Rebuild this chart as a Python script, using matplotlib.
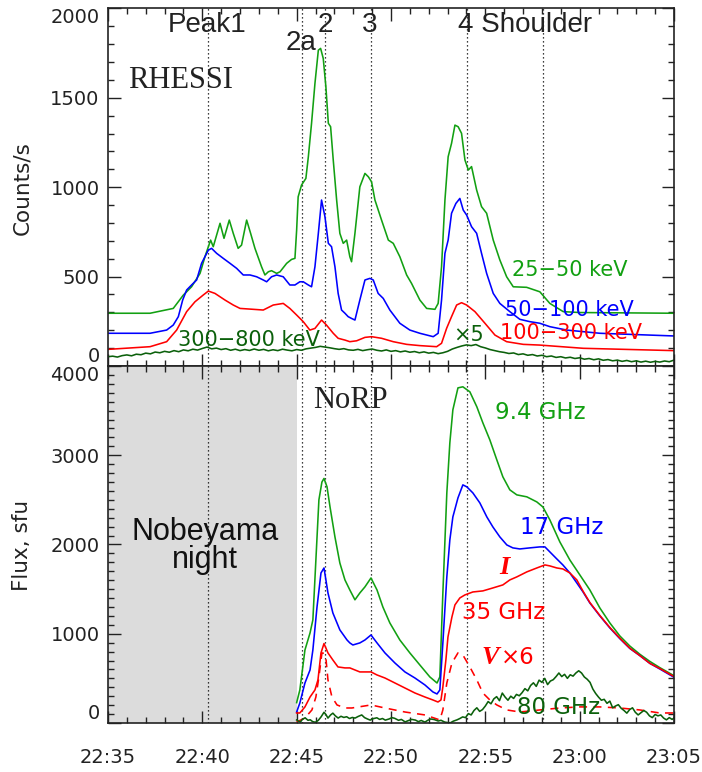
import numpy as np
import matplotlib
matplotlib.use("Agg")
import matplotlib.pyplot as plt
from matplotlib.ticker import MultipleLocator

# ---------------------------------------------------------------------------
# Data: time in minutes after 22:35 UT, value
# ---------------------------------------------------------------------------
xtick_labels = ["22:35", "22:40", "22:45", "22:50", "22:55", "23:00", "23:05"]

# RHESSI count rates (counts/s)
hxr_25_50 = np.array([
    [0.0, 295], [2.23, 295], [3.46, 322], [3.99, 396], [4.43, 443], [4.88, 518],
    [5.14, 611], [5.44, 704], [5.58, 667], [5.94, 798], [6.15, 714], [6.43, 816],
    [6.64, 742], [6.90, 658], [7.08, 676], [7.35, 816], [7.56, 742], [7.79, 658],
    [8.14, 555], [8.32, 509], [8.50, 527], [8.67, 533], [8.94, 518], [9.12, 527],
    [9.47, 574], [9.73, 596], [9.91, 602], [10.00, 760], [10.08, 946], [10.26, 1012],
    [10.49, 1049], [10.62, 1170], [10.79, 1357], [10.97, 1580], [11.15, 1766],
    [11.27, 1776], [11.41, 1720], [11.55, 1561], [11.68, 1357], [11.80, 1338],
    [11.94, 1152], [12.12, 928], [12.29, 742], [12.47, 686], [12.65, 704],
    [12.82, 611], [12.91, 583], [13.09, 742], [13.35, 1002], [13.62, 1077],
    [13.80, 1058], [13.97, 1030], [14.15, 928], [14.50, 816], [14.86, 704],
    [15.12, 686], [15.47, 611], [15.83, 509], [16.09, 462], [16.53, 369],
    [16.89, 322], [17.33, 317], [17.50, 350], [17.68, 555], [17.86, 928],
    [18.03, 1170], [18.21, 1245], [18.39, 1347], [18.56, 1338], [18.74, 1301],
    [18.92, 1152], [19.10, 1096], [19.27, 1115], [19.54, 984], [19.80, 891],
    [20.07, 854], [20.42, 704], [20.77, 593], [21.13, 499], [21.48, 443],
    [22.19, 440], [22.89, 415], [23.42, 350], [24.13, 304], [25.01, 299],
    [30.0, 295],
])

hxr_50_100 = np.array([
    [0.0, 183], [2.23, 183], [3.11, 201], [3.46, 229], [3.73, 276], [3.96, 369],
    [4.17, 425], [4.43, 453], [4.70, 481], [4.96, 574], [5.32, 648], [5.49, 658],
    [5.76, 630], [6.11, 602], [6.47, 574], [6.82, 546], [7.17, 509], [7.53, 509],
    [7.88, 499], [8.23, 481], [8.41, 471], [8.67, 499], [8.94, 509], [9.29, 499],
    [9.64, 453], [9.91, 453], [10.17, 471], [10.35, 471], [10.62, 453],
    [10.79, 443], [10.97, 555], [11.15, 742], [11.32, 928], [11.50, 835],
    [11.68, 686], [11.85, 667], [12.03, 555], [12.20, 406], [12.38, 313],
    [12.56, 295], [12.73, 276], [12.91, 266], [13.09, 257], [13.35, 369],
    [13.62, 481], [13.88, 490], [14.06, 481], [14.32, 406], [14.59, 378],
    [14.94, 313], [15.47, 239], [16.00, 201], [16.53, 183], [17.24, 164],
    [17.50, 183], [17.68, 369], [17.86, 630], [18.03, 704], [18.21, 854],
    [18.44, 909], [18.65, 937], [18.83, 872], [19.01, 844], [19.27, 779],
    [19.54, 742], [19.80, 630], [20.07, 518], [20.42, 406], [20.77, 350],
    [21.30, 304], [21.83, 261], [22.36, 248], [22.89, 239], [23.42, 220],
    [24.31, 201], [26.07, 183], [30.0, 168],
])

hxr_100_300 = np.array([
    [0.0, 93], [2.23, 108], [3.11, 136], [3.64, 201], [4.17, 304], [4.61, 359],
    [5.05, 397], [5.32, 419], [5.67, 406], [6.20, 369], [6.64, 341], [7.00, 322],
    [7.70, 317], [8.23, 313], [8.76, 341], [9.29, 350], [9.64, 322], [10.00, 285],
    [10.35, 248], [10.70, 201], [10.97, 210], [11.32, 257], [11.58, 229],
    [11.94, 183], [12.20, 155], [12.56, 145], [12.82, 136], [13.18, 141],
    [13.62, 160], [13.97, 164], [14.50, 155], [15.12, 136], [15.83, 121],
    [16.53, 114], [17.42, 108], [17.68, 127], [17.95, 211], [18.21, 276],
    [18.48, 341], [18.74, 354], [19.01, 341], [19.45, 304], [19.98, 239],
    [20.51, 173], [21.13, 136], [22.01, 121], [22.89, 117], [25.19, 99],
    [30.0, 86],
])

# 300-800 keV, multiplied by 5
hxr_300_800 = np.array([
    [0.00, 52], [0.25, 55], [0.50, 50], [0.75, 58], [1.00, 62], [1.25, 57],
    [1.50, 66], [1.75, 63], [2.00, 72], [2.25, 68], [2.50, 78], [2.75, 74],
    [3.00, 82], [3.25, 77], [3.50, 86], [3.75, 80], [4.00, 90], [4.25, 85],
    [4.50, 94], [4.75, 89], [5.00, 98], [5.25, 106], [5.50, 96], [5.75, 100],
    [6.00, 92], [6.25, 97], [6.50, 88], [6.75, 94], [7.00, 86], [7.25, 92],
    [7.50, 87], [7.75, 95], [8.00, 88], [8.25, 93], [8.50, 85], [8.75, 91],
    [9.00, 86], [9.25, 94], [9.50, 89], [9.75, 85], [10.00, 92], [10.25, 88],
    [10.50, 96], [10.75, 100], [11.00, 104], [11.25, 110], [11.50, 106],
    [11.75, 102], [12.00, 97], [12.25, 93], [12.50, 97], [12.75, 90],
    [13.00, 88], [13.25, 93], [13.50, 86], [13.75, 91], [14.00, 95], [14.25, 88],
    [14.50, 84], [14.75, 90], [15.00, 82], [15.25, 86], [15.50, 79], [15.75, 84],
    [16.00, 77], [16.25, 81], [16.50, 74], [16.75, 79], [17.00, 72], [17.25, 76],
    [17.50, 69], [17.75, 74], [18.00, 82], [18.25, 95], [18.50, 104],
    [18.75, 112], [19.00, 118], [19.25, 114], [19.50, 120], [19.75, 108],
    [20.00, 101], [20.25, 92], [20.50, 86], [20.75, 80], [21.00, 76], [21.25, 70],
    [21.50, 73], [21.75, 64], [22.00, 68], [22.25, 60], [22.50, 64], [22.75, 56],
    [23.00, 60], [23.25, 52], [23.50, 56], [23.75, 48], [24.00, 52], [24.25, 45],
    [24.50, 49], [24.75, 42], [25.00, 46], [25.25, 38], [25.50, 42], [25.75, 35],
    [26.00, 40], [26.25, 32], [26.50, 36], [26.75, 29], [27.00, 33], [27.25, 26],
    [27.50, 31], [27.75, 24], [28.00, 29], [28.25, 22], [28.50, 27], [28.75, 21],
    [29.00, 26], [29.25, 22], [29.50, 28], [29.75, 24], [30.00, 33],
])

# NoRP fluxes (sfu)
norp_9_4 = np.array([
    [10.00, 228], [10.17, 370], [10.44, 818], [10.71, 1009], [10.86, 1155],
    [11.02, 1827], [11.18, 2500], [11.34, 2700], [11.45, 2740], [11.61, 2646],
    [11.77, 2420], [12.03, 2085], [12.29, 1793], [12.56, 1603], [12.82, 1490],
    [13.09, 1380], [13.35, 1457], [13.62, 1525], [13.94, 1625], [14.26, 1490],
    [14.57, 1300], [14.94, 1121], [15.47, 930], [16.00, 785], [16.53, 650],
    [17.06, 516], [17.44, 448], [17.59, 516], [17.75, 1457], [17.96, 2578],
    [18.12, 3139], [18.28, 3509], [18.55, 3755], [18.81, 3767], [19.18, 3711],
    [19.55, 3543], [19.87, 3363], [20.24, 3172], [20.61, 2948], [20.93, 2758],
    [21.30, 2612], [21.67, 2556], [22.20, 2534], [22.73, 2477], [23.05, 2421],
    [23.42, 2276], [23.95, 2029], [24.48, 1827], [25.01, 1659], [25.54, 1491],
    [26.07, 1289], [26.60, 1121], [27.13, 975], [27.66, 862], [28.19, 770],
    [28.72, 690], [29.25, 620], [30.00, 530],
])

norp_17 = np.array([
    [10.00, 123], [10.17, 224], [10.44, 448], [10.71, 594], [10.86, 818],
    [11.08, 1300], [11.29, 1681], [11.45, 1737], [11.66, 1457], [11.92, 1233],
    [12.29, 1043], [12.67, 930], [12.82, 897], [12.98, 874], [13.35, 897],
    [13.62, 930], [13.94, 986], [14.26, 897], [14.68, 785], [15.21, 672],
    [15.74, 572], [16.27, 504], [16.80, 426], [17.22, 348], [17.44, 325],
    [17.59, 370], [17.75, 897], [17.96, 1637], [18.12, 2051], [18.28, 2309],
    [18.55, 2522], [18.81, 2668], [19.02, 2646], [19.34, 2578], [19.71, 2466],
    [20.08, 2309], [20.40, 2197], [20.77, 2085], [21.14, 1995], [21.46, 1962],
    [21.83, 1950], [22.36, 1962], [22.89, 1973], [23.16, 1973], [23.42, 1917],
    [23.79, 1838], [24.11, 1771], [24.48, 1681], [24.85, 1569], [25.17, 1471],
    [25.54, 1345], [26.07, 1200], [26.60, 1065], [27.13, 945], [27.66, 835],
    [28.19, 755], [28.72, 668], [29.25, 605], [30.00, 512],
])

norp_35_I = np.array([
    [10.00, 112], [10.17, 112], [10.44, 180], [10.71, 291], [10.97, 370],
    [11.13, 482], [11.29, 785], [11.45, 890], [11.66, 785], [11.92, 706],
    [12.19, 628], [12.56, 617], [12.82, 617], [13.09, 594], [13.35, 572],
    [13.94, 572], [14.26, 538], [14.68, 504], [15.21, 448], [15.74, 392],
    [16.27, 336], [16.80, 291], [17.22, 258], [17.49, 235], [17.65, 258],
    [17.75, 404], [17.91, 706], [18.02, 964], [18.23, 1188], [18.39, 1323],
    [18.65, 1401], [18.92, 1435], [19.34, 1468], [19.87, 1480], [20.40, 1513],
    [20.93, 1547], [21.30, 1603], [21.67, 1637], [22.20, 1693], [22.73, 1737],
    [23.16, 1771], [23.42, 1760], [23.79, 1737], [24.11, 1726], [24.48, 1681],
    [24.85, 1603], [25.17, 1480], [25.54, 1350], [26.07, 1205], [26.60, 1070],
    [27.13, 950], [27.66, 838], [28.19, 755], [28.72, 668], [29.25, 610],
    [30.00, 520],
])

# circular polarization at 35 GHz, multiplied by 6
norp_35_V = np.array([
    [10.00, 11], [10.44, 56], [10.81, 146], [11.02, 291], [11.18, 516],
    [11.34, 785], [11.45, 780], [11.56, 706], [11.66, 482], [11.87, 291],
    [12.14, 202], [12.56, 168], [12.93, 168], [13.94, 202], [14.68, 168],
    [15.74, 123], [16.80, 90], [17.59, 34], [17.75, 146], [17.96, 448],
    [18.23, 672], [18.55, 785], [18.81, 762], [19.18, 628], [19.55, 482],
    [19.87, 336], [20.24, 258], [20.61, 202], [21.14, 146], [21.83, 123],
    [22.89, 146], [23.95, 168], [25.01, 180], [26.07, 180], [27.13, 168],
    [28.19, 146], [29.25, 112], [30.00, 112],
])

norp_80 = np.array([
    [10.00, 34], [10.10, 20], [10.20, 10], [10.30, 40], [10.45, 58], [10.60, 30],
    [10.72, 36], [10.85, 15], [11.00, 8], [11.15, 30], [11.30, 70], [11.45, 120],
    [11.55, 95], [11.66, 55], [11.80, 90], [11.92, 110], [12.05, 80], [12.20, 55],
    [12.35, 75], [12.50, 62], [12.65, 70], [12.80, 50], [12.95, 62], [13.10, 55],
    [13.25, 72], [13.45, 90], [13.60, 60], [13.75, 45], [13.90, 32], [14.05, 48],
    [14.25, 58], [14.40, 40], [14.55, 50], [14.70, 32], [14.90, 45], [15.05, 60],
    [15.20, 52], [15.40, 30], [15.55, 40], [15.75, 12], [15.90, 25], [16.10, 40],
    [16.30, 32], [16.45, 15], [16.60, 28], [16.80, 10], [16.95, 30], [17.10, 45],
    [17.30, 38], [17.50, 22], [17.65, 30], [17.85, 10], [18.00, 5], [18.15, 2],
    [18.30, 20], [18.50, 35], [18.65, 50], [18.80, 68], [18.95, 60], [19.10, 105],
    [19.25, 90], [19.40, 140], [19.55, 170], [19.70, 130], [19.85, 150],
    [20.00, 190], [20.15, 240], [20.30, 215], [20.45, 270], [20.60, 295],
    [20.75, 250], [20.90, 335], [21.05, 290], [21.20, 255], [21.35, 300],
    [21.50, 275], [21.65, 320], [21.80, 305], [21.95, 340], [22.10, 385],
    [22.25, 360], [22.40, 420], [22.55, 450], [22.70, 410], [22.85, 480],
    [23.00, 455], [23.15, 500], [23.30, 430], [23.45, 470], [23.60, 485],
    [23.75, 520], [23.90, 560], [24.05, 520], [24.20, 545], [24.35, 500],
    [24.50, 540], [24.65, 525], [24.80, 560], [24.95, 585], [25.10, 560],
    [25.25, 515], [25.40, 490], [25.55, 455], [25.70, 380], [25.85, 330],
    [26.00, 290], [26.15, 255], [26.30, 265], [26.45, 220], [26.60, 245],
    [26.75, 170], [26.90, 190], [27.05, 205], [27.20, 165], [27.35, 140],
    [27.50, 110], [27.65, 150], [27.80, 170], [27.95, 120], [28.10, 90],
    [28.25, 115], [28.40, 140], [28.55, 120], [28.70, 80], [28.85, 60],
    [29.00, 95], [29.15, 80], [29.30, 90], [29.45, 55], [29.60, 35],
    [29.75, 60], [29.90, 40], [30.00, 56],
])

# Times of the marked peaks (minutes after 22:35)
peak_times = [5.30, 10.28, 11.50, 13.94, 19.02, 23.05]
night_end = 10.0

# ---------------------------------------------------------------------------
GREEN = "#12a012"
DKGREEN = "#0b600b"
BLUE = "#0000ff"
RED = "#ff0000"
TXT = "#222222"
SANS = ["DejaVu Sans"]
HELV = ["Liberation Sans", "DejaVu Sans"]
SERIF = ["Liberation Serif", "DejaVu Serif"]

fig = plt.figure(figsize=(7.02, 7.72), dpi=100)
ax1 = fig.add_axes([0.1538, 0.5259, 0.8063, 0.4633])
ax2 = fig.add_axes([0.1538, 0.0635, 0.8063, 0.4624], sharex=ax1)

lw = 1.15

# --- top panel: RHESSI
ax1.plot(hxr_25_50[:, 0], hxr_25_50[:, 1], color=GREEN, lw=lw)
ax1.plot(hxr_50_100[:, 0], hxr_50_100[:, 1], color=BLUE, lw=lw)
ax1.plot(hxr_100_300[:, 0], hxr_100_300[:, 1], color=RED, lw=lw)
ax1.plot(hxr_300_800[:, 0], hxr_300_800[:, 1], color=DKGREEN, lw=lw)

# --- bottom panel: NoRP
ax2.axvspan(0, night_end, color="#dcdcdc", lw=0, zorder=0)
ax2.plot(norp_9_4[:, 0], norp_9_4[:, 1], color=GREEN, lw=lw)
ax2.plot(norp_17[:, 0], norp_17[:, 1], color=BLUE, lw=lw)
ax2.plot(norp_35_I[:, 0], norp_35_I[:, 1], color=RED, lw=lw)
ax2.plot(norp_35_V[:, 0], norp_35_V[:, 1], color=RED, lw=lw, ls=(0, (5, 4)))
ax2.plot(norp_80[:, 0], norp_80[:, 1], color=DKGREEN, lw=lw)

for ax in (ax1, ax2):
    for t in peak_times:
        ax.axvline(t, color="black", lw=0.9, ls=(0, (1, 2.2)), zorder=1)

# --- axes
ax1.set_xlim(0, 30)
ax1.set_ylim(0, 2000)
ax2.set_ylim(0, 4000)
ax1.yaxis.set_major_locator(MultipleLocator(500))
ax1.yaxis.set_minor_locator(MultipleLocator(100))
ax2.yaxis.set_major_locator(MultipleLocator(1000))
ax2.yaxis.set_minor_locator(MultipleLocator(100))
ax2.set_xticks(np.arange(0, 31, 5), xtick_labels)
ax2.xaxis.set_minor_locator(MultipleLocator(1))

for ax in (ax1, ax2):
    ax.tick_params(which="both", direction="in", top=True, right=True,
                   width=1.0, color="#222222", labelcolor=TXT, labelsize=14)
    ax.tick_params(which="major", length=9)
    ax.tick_params(which="minor", length=4.5)
    ax.tick_params(axis="y", pad=6)
    for s in ax.spines.values():
        s.set_linewidth(1.2)
        s.set_color("#222222")
    for lab in ax.get_xticklabels() + ax.get_yticklabels():
        lab.set_family(SANS)
ax1.tick_params(labelbottom=False)
ax2.tick_params(axis="x", pad=18)

fig.canvas.draw()
for ax, top in ((ax1, "2000"), (ax2, "4000")):
    for lab in ax.get_yticklabels():
        if lab.get_text() == "0":
            lab.set_verticalalignment("bottom")
        elif lab.get_text() == top:
            lab.set_verticalalignment("top")

fig.text(22 / 702, 1 - 188 / 772, "Counts/s", rotation=90, ha="center",
         va="center", fontsize=15.5, color=TXT, family=SANS)
fig.text(22 / 702, 1 - 545 / 772, "Flux, sfu", rotation=90, ha="center",
         va="center", fontsize=15.5, color=TXT, family=SANS)

# --- peak annotations
pk = dict(fontsize=20, color=TXT, family=HELV, va="center")
ax1.text(5.25, 1906, "Peak1", ha="center", **pk)
ax1.text(10.23, 1806, "2a", ha="center", **pk)
ax1.text(11.50, 1906, "2", ha="center", **pk)
ax1.text(13.88, 1906, "3", ha="center", **pk)
ax1.text(18.55, 1906, "4 Shoulder", ha="left", **pk)

ax1.text(1.06, 1599, "RHESSI", fontsize=22, family=SERIF, color=TXT,
         ha="left", va="center")
ax2.text(10.86, 3618, "NoRP", fontsize=22, family=SERIF, color=TXT,
         ha="left", va="center")

ax2.text(5.14, 1982, "Nobeyama\nnight", fontsize=22, family=HELV, color="#111111",
         ha="center", va="center", linespacing=0.92)

# --- series labels
lt = dict(fontsize=15, family=SANS, ha="left", va="center")
ax1.text(21.41, 537, "25\u221250 keV", color=GREEN, **lt)
ax1.text(21.04, 313, "50\u2212100 keV", color=BLUE, **lt)
ax1.text(20.77, 184, "100\u2212300 keV", color=RED, **lt)
ax1.text(3.71, 145, "300\u2212800 keV", color=DKGREEN, **lt)
ax1.text(18.28, 173, "\u00d75", color=DKGREEN, **lt)

lb = dict(fontsize=16.5, family=SANS, ha="left", va="center")
ax2.text(20.51, 3483, "9.4 GHz", color=GREEN, **lb)
ax2.text(21.83, 2195, "17 GHz", color=BLUE, **lb)
ax2.text(18.76, 1243, "35 GHz", color=RED, **lb)
ax2.text(21.67, 168, "80 GHz", color=DKGREEN, **lb)
ax2.text(20.99, 1747, "I", color=RED, fontsize=19, family=SERIF,
         fontweight="bold", fontstyle="italic", ha="center", va="center")
ax2.text(19.80, 739, "V", color=RED, fontsize=19, family=SERIF,
         fontweight="bold", fontstyle="italic", ha="left", va="center")
ax2.text(20.85, 739, "\u00d76", color=RED, **lb)

fig.savefig("out.png", dpi=100)
